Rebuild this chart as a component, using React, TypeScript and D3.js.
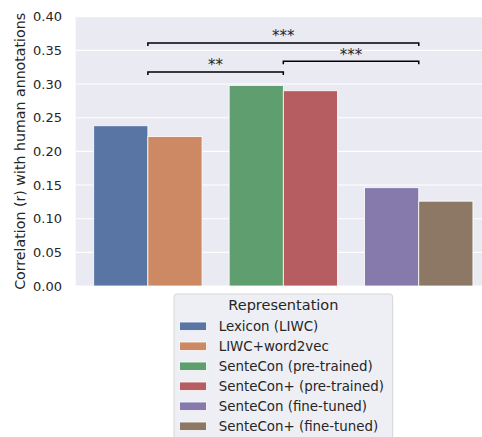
import React from "react";
import * as d3 from "d3";

const categories = ["Lexicon", "SenteCon (pre-trained)", "SenteCon (fine-tuned)"];
const series = [
  "Lexicon (LIWC)",
  "LIWC+word2vec",
  "SenteCon (pre-trained)",
  "SenteCon+ (pre-trained)",
  "SenteCon (fine-tuned)",
  "SenteCon+ (fine-tuned)",
];
const seriesGroup = [0, 0, 1, 1, 2, 2];
const seriesDodge = [0, 1, 0, 1, 0, 1];
const values = [0.238, 0.222, 0.298, 0.29, 0.146, 0.126];
const colors = ["#5975a4", "#cc8963", "#5f9e6e", "#b55d60", "#857aab", "#8d7866"];
const yTicks = [0, 0.05, 0.1, 0.15, 0.2, 0.25, 0.3, 0.35, 0.4];
// significance brackets: [fromGroupPos, toGroupPos, y level, label]
const brackets: [number, number, number, string][] = [
  [0, 1, 0.318, "**"],
  [1, 2, 0.334, "***"],
  [0, 2, 0.361, "***"],
];

const W = 482;
const H = 437;
const left = 75.7;
const right = 482;
const top = 16.7;
const bottom = 286;
const font = "DejaVu Sans, sans-serif";
const textColor = "#262626";

export default function App() {
  const x = d3.scaleLinear().domain([-0.533, 2.467]).range([left, right]);
  const y = d3.scaleLinear().domain([0, 0.4]).range([bottom, top]);
  const groupW = 0.8;
  const barW = groupW / 2;

  const legendX = 174;
  const legendY = 294;
  const legendW = 218.7;
  const rowH = 20;

  return (
    <svg
      width={W}
      height={H}
      style={{ position: "absolute", left: 0, top: 0, background: "#fff" }}
      fontFamily={font}
    >
      <defs>
        <clipPath id="plotclip">
          <rect x={left} y={top} width={right - left} height={bottom - top} />
        </clipPath>
      </defs>
      <rect x={left} y={top} width={right - left} height={bottom - top} fill="#eaeaf2" />
      {yTicks.map((t) => (
        <line key={t} x1={left} x2={right} y1={y(t)} y2={y(t)} stroke="#fff" strokeWidth={1.1} />
      ))}
      <g clipPath="url(#plotclip)">
        {values.map((v, i) => {
          const x0 = x(seriesGroup[i] - groupW / 2 + seriesDodge[i] * barW);
          const x1 = x(seriesGroup[i] - groupW / 2 + (seriesDodge[i] + 1) * barW);
          return (
            <rect
              key={i}
              x={x0}
              y={y(v)}
              width={x1 - x0}
              height={y(0) - y(v)}
              fill={colors[i]}
              stroke="#fff"
              strokeWidth={0.8}
            />
          );
        })}
      </g>
      {yTicks.map((t) => (
        <text
          key={t}
          x={62}
          y={y(t)}
          textAnchor="end"
          dominantBaseline="central"
          fontSize={13}
          fill={textColor}
        >
          {t.toFixed(2)}
        </text>
      ))}
      <text
        transform={`translate(20,${(top + bottom) / 2}) rotate(-90)`}
        textAnchor="middle"
        dominantBaseline="central"
        fontSize={14.2}
        fill={textColor}
      >
        Correlation (r) with human annotations
      </text>
      {brackets.map(([a, b, lvl, label], i) => {
        const xa = x(a);
        const xb = x(b);
        const yl = y(lvl);
        return (
          <g key={i}>
            <path
              d={`M${xa},${yl + 3} L${xa},${yl} L${xb},${yl} L${xb},${yl + 3}`}
              fill="none"
              stroke="#000"
              strokeWidth={1.5}
            />
            <text
              x={(xa + xb) / 2}
              y={yl - 1.5}
              textAnchor="middle"
              fontSize={15}
              fill={textColor}
            >
              {label}
            </text>
          </g>
        );
      })}
      <rect
        x={legendX}
        y={legendY}
        width={legendW}
        height={160}
        rx={3}
        fill="#eeeef5"
        stroke="#d6d6d6"
        strokeWidth={1}
      />
      <text
        x={legendX + legendW / 2}
        y={305}
        textAnchor="middle"
        dominantBaseline="central"
        fontSize={14.5}
        fill={textColor}
      >
        Representation
      </text>
      {series.map((s, i) => (
        <g key={s}>
          <rect
            x={179.5}
            y={326.3 + i * rowH - 4.3}
            width={27}
            height={8.6}
            fill={colors[i]}
            stroke="#fff"
            strokeWidth={0.8}
          />
          <text
            x={218.7}
            y={326.3 + i * rowH}
            dominantBaseline="central"
            fontSize={13.4}
            fill={textColor}
          >
            {s}
          </text>
        </g>
      ))}
    </svg>
  );
}
